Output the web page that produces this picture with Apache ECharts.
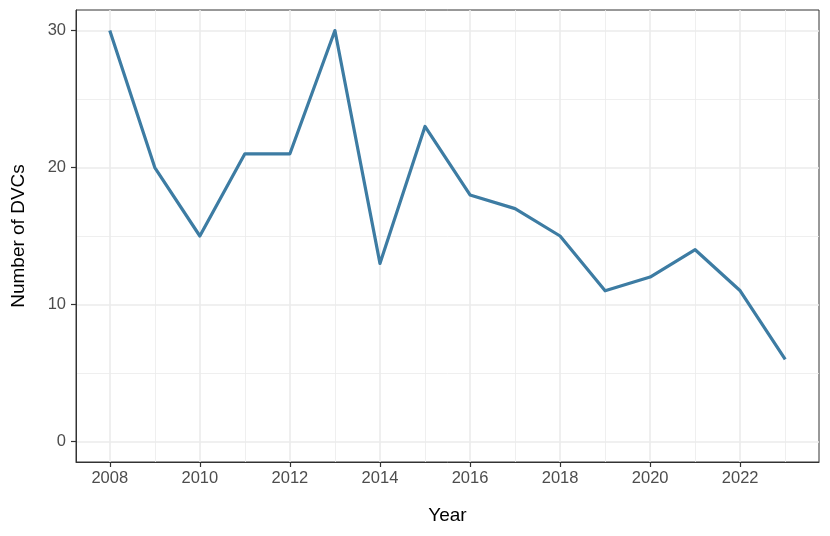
<!DOCTYPE html>
<html>
<head>
<meta charset="utf-8">
<script src="https://cdn.jsdelivr.net/npm/echarts@6/dist/echarts.min.js"></script>
<style>
  html, body { margin: 0; padding: 0; background: #fff; }
  #chart { width: 830px; height: 536px; }
</style>
</head>
<body>
<div id="chart"></div>
<script>
const years = [2008, 2009, 2010, 2011, 2012, 2013, 2014, 2015, 2016, 2017, 2018, 2019, 2020, 2021, 2022, 2023];
const dvcCounts = [30, 20, 15, 21, 21, 30, 13, 23, 18, 17, 15, 11, 12, 14, 11, 6];
const xMajorTicks = [2008, 2010, 2012, 2014, 2016, 2018, 2020, 2022];
const xMinorTicks = [2009, 2011, 2013, 2015, 2017, 2019, 2021, 2023];
const yMajorTicks = [0, 10, 20, 30];
const yMinorTicks = [5, 15, 25];

const chart = echarts.init(document.getElementById('chart'));
const gridColor = '#ebebeb';
const font = 'Liberation Sans, Arial, sans-serif';

const option = {
  animation: false,
  grid: {
    left: 76, right: 11, top: 10, bottom: 74,
    containLabel: false, outerBoundsMode: 'none',
    show: true, borderColor: '#333333', borderWidth: 1, backgroundColor: '#fff'
  },
  xAxis: [
    {
      type: 'value', min: 2007.25, max: 2023.75,
      name: 'Year', nameLocation: 'middle', nameGap: 44,
      nameTextStyle: { color: '#000', fontSize: 19, fontFamily: font },
      axisLine: { show: true, onZero: false, lineStyle: { color: '#333333', width: 1 } },
      axisTick: { show: true, inside: false, length: 5, lineStyle: { color: '#333333', width: 1.2 }, customValues: xMajorTicks },
      axisLabel: { color: '#4d4d4d', fontSize: 16.5, fontFamily: font, margin: 8, customValues: xMajorTicks, formatter: v => String(v) },
      splitLine: { show: true, lineStyle: { color: gridColor, width: 1.6 } }
    },
    {
      type: 'value', min: 2007.25, max: 2023.75, position: 'bottom',
      axisLine: { show: false, onZero: false },
      axisTick: { show: false, customValues: xMinorTicks },
      axisLabel: { show: false, customValues: xMinorTicks },
      splitLine: { show: true, lineStyle: { color: gridColor, width: 0.8 } }
    }
  ],
  yAxis: [
    {
      type: 'value', min: -1.5, max: 31.5,
      name: 'Number of DVCs', nameLocation: 'middle', nameGap: 48,
      nameTextStyle: { color: '#000', fontSize: 19, fontFamily: font },
      axisLine: { show: true, onZero: false, lineStyle: { color: '#333333', width: 1 } },
      axisTick: { show: true, inside: false, length: 5, lineStyle: { color: '#333333', width: 1.2 }, customValues: yMajorTicks },
      axisLabel: { color: '#4d4d4d', fontSize: 16.5, fontFamily: font, margin: 10, customValues: yMajorTicks },
      splitLine: { show: true, lineStyle: { color: gridColor, width: 1.6 } }
    },
    {
      type: 'value', min: -1.5, max: 31.5, position: 'left',
      axisLine: { show: false, onZero: false },
      axisTick: { show: false, customValues: yMinorTicks },
      axisLabel: { show: false, customValues: yMinorTicks },
      splitLine: { show: true, lineStyle: { color: gridColor, width: 0.8 } }
    }
  ],
  series: [
    {
      type: 'line',
      data: years.map((y, i) => [y, dvcCounts[i]]),
      showSymbol: false,
      lineStyle: { color: '#3d7ca3', width: 3.2, join: 'round' },
      z: 5
    }
  ]
};
chart.setOption(option);
</script>
</body>
</html>
